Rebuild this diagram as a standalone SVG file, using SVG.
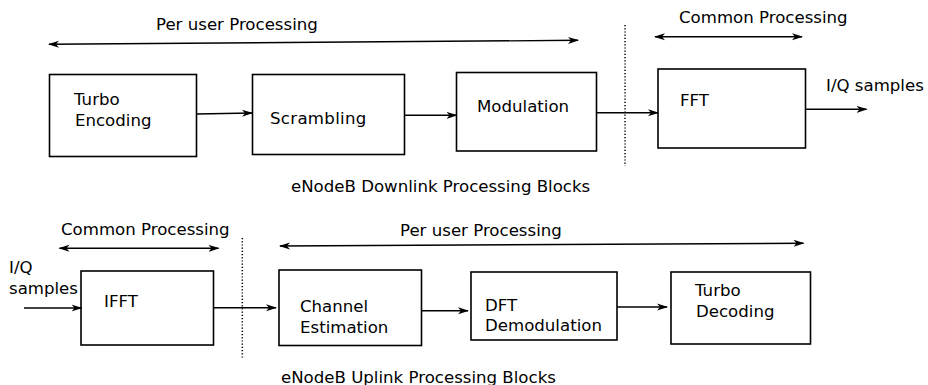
<svg xmlns="http://www.w3.org/2000/svg" width="928" height="385" viewBox="0 0 928 385">
<defs>
<marker id="ah" markerWidth="12" markerHeight="8" refX="10" refY="4" orient="auto-start-reverse" markerUnits="userSpaceOnUse">
<path d="M0,0.5 L11,4 L0,7.5 L3,4 Z" fill="#000"/>
</marker>
<style>
.box{fill:#fff;stroke:#000;stroke-width:1.6}
.t{font-family:"DejaVu Sans","Verdana",sans-serif;font-size:16.6px;fill:#000}
.c{fill:none;stroke:#000;stroke-width:1.4}
.d{fill:none;stroke:#000;stroke-width:1.5;stroke-dasharray:1.2 2}
</style>
</defs>
<rect width="928" height="385" fill="#fff"/>

<g id="labels">
<text class="t" x="156" y="30">Per user Processing</text>
<text class="t" x="679" y="22.5">Common Processing</text>
<text class="t" x="826" y="90.5">I/Q samples</text>
<text class="t" x="291" y="191.5">eNodeB Downlink Processing Blocks</text>
<text class="t" x="61" y="235">Common Processing</text>
<text class="t" x="400" y="235.5">Per user Processing</text>
<text class="t" x="9" y="273">I/Q</text>
<text class="t" x="9" y="294">samples</text>
<text class="t" x="281" y="382.5">eNodeB Uplink Processing Blocks</text>
</g>

<g id="turbo-encoding">
<rect class="box" x="49.5" y="74.5" width="147" height="82"/>
<text class="t" x="74" y="105">Turbo</text>
<text class="t" x="75" y="126">Encoding</text>
</g>
<g id="scrambling">
<rect class="box" x="252.5" y="74.5" width="152" height="80"/>
<text class="t" x="270" y="124" letter-spacing="0.3">Scrambling</text>
</g>
<g id="modulation">
<rect class="box" x="456.5" y="72.5" width="140" height="78.5"/>
<text class="t" x="477" y="111.5">Modulation</text>
</g>
<g id="fft">
<rect class="box" x="658" y="69" width="147.5" height="79"/>
<text class="t" x="680" y="106">FFT</text>
</g>
<g id="ifft">
<rect class="box" x="81" y="271" width="132.5" height="74"/>
<text class="t" x="104" y="306.5">IFFT</text>
</g>
<g id="channel-estimation">
<rect class="box" x="279" y="270" width="142.5" height="75.5"/>
<text class="t" x="300" y="311.5">Channel</text>
<text class="t" x="300" y="332.5">Estimation</text>
</g>
<g id="dft-demodulation">
<rect class="box" x="471" y="272" width="146" height="68"/>
<text class="t" x="485" y="310.5">DFT</text>
<text class="t" x="485" y="331">Demodulation</text>
</g>
<g id="turbo-decoding">
<rect class="box" x="671" y="272" width="139.5" height="72"/>
<text class="t" x="695" y="296">Turbo</text>
<text class="t" x="696" y="317">Decoding</text>
</g>

<g id="connectors">
<line class="c" x1="49" y1="44.3" x2="578" y2="40.3" marker-start="url(#ah)" marker-end="url(#ah)"/>
<line class="c" x1="655" y1="36.7" x2="802" y2="36.7" marker-start="url(#ah)" marker-end="url(#ah)"/>
<line class="d" x1="625" y1="25" x2="625" y2="166"/>
<path class="c" d="M196.5,114 L252,113" marker-end="url(#ah)"/>
<line class="c" x1="404.5" y1="115.3" x2="456.5" y2="115.3" marker-end="url(#ah)"/>
<line class="c" x1="596.5" y1="112.7" x2="658" y2="112.7" marker-end="url(#ah)"/>
<line class="c" x1="805.5" y1="109.3" x2="866.5" y2="109.3" marker-end="url(#ah)"/>

<line class="c" x1="59.5" y1="248.3" x2="218.5" y2="248.3" marker-start="url(#ah)" marker-end="url(#ah)"/>
<line class="c" x1="280" y1="246" x2="803.5" y2="243.3" marker-start="url(#ah)" marker-end="url(#ah)"/>
<line class="d" x1="242.3" y1="238" x2="242.3" y2="358.5"/>
<line class="c" x1="24" y1="308" x2="81.5" y2="308" marker-end="url(#ah)"/>
<line class="c" x1="213.5" y1="307.7" x2="276" y2="307.7" marker-end="url(#ah)"/>
<line class="c" x1="421.5" y1="310.7" x2="468" y2="310.7" marker-end="url(#ah)"/>
<line class="c" x1="617" y1="307" x2="667" y2="307" marker-end="url(#ah)"/>
</g>
</svg>
